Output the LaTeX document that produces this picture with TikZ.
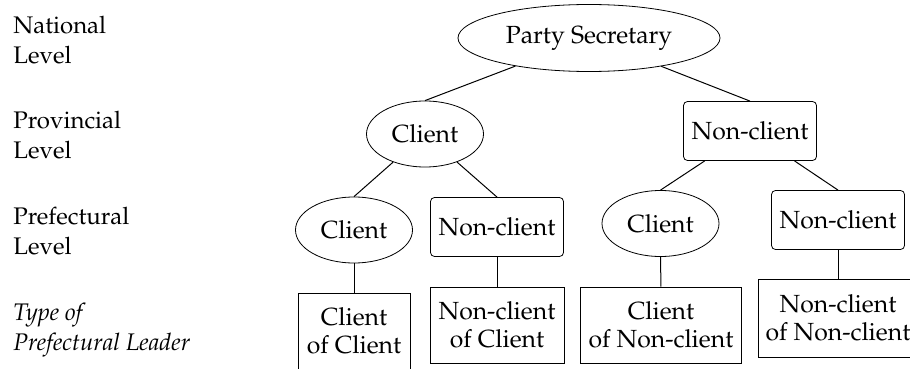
\documentclass[tikz,border=0pt]{standalone}
\usepackage[T1]{fontenc}
\usepackage{mathpazo}
\usepackage{tikz}
\usetikzlibrary{positioning,shapes.geometric}

\begin{document}
\begin{tikzpicture}[
	x=0.5pt, y=-0.5pt,
	font=\fontsize{12.4}{14}\selectfont,
	% Client (oval)
	cnode/.style={
		ellipse, draw=black, inner sep=0pt,
		minimum width=58.5pt, minimum height=33pt
	},
	% Non-client (rounded box)
	nnode/.style={
		rectangle, rounded corners=2pt, draw=black, inner sep=0pt,
		minimum width=66.5pt, minimum height=29.5pt
	},
	% Type of leader (plain box)
	leaf/.style={
		rectangle, draw=black, inner sep=0pt,
		minimum height=38pt, align=center
	},
	% Level labels on the left
	lvl/.style={
		anchor=north west, inner sep=0pt, align=left,
		font=\fontsize{12}{15}\selectfont
	},
	link/.style={draw=black, line width=0.5pt}
	]
	\useasboundingbox (0,0) rectangle (910,369);

	% --- 1. LEVEL LABELS ---
	\node[lvl] (lnat) at (13,16) {National\\Level};
	\node[lvl] (lprov) at (13,111) {Provincial\\Level};
	\node[lvl] (lpref) at (13,207) {Prefectural\\Level};
	\node[lvl, font=\itshape\fontsize{12}{15}\selectfont] (ltype) at (13,303) {Type of\\Prefectural Leader};

	% --- 2. TREE ---
	% National
	\node[cnode, minimum width=131pt, minimum height=33.5pt] (sec) at (589,38) {Party Secretary};
	% Provincial
	\node[cnode] (pc) at (425,134) {Client};
	\node[nnode] (pn) at (750,131) {Non-client};
	% Prefectural
	\node[cnode] (fcc) at (354,230) {Client};
	\node[nnode] (fcn) at (497,227) {Non-client};
	\node[cnode] (fnc) at (660.5,223.5) {Client};
	\node[nnode] (fnn) at (838,220) {Non-client};
	% Type of prefectural leader
	\node[leaf, minimum width=56pt] (tcc) at (354,331) {Client\\of Client};
	\node[leaf, minimum width=67pt] (tcn) at (497,325) {Non-client\\of Client};
	\node[leaf, minimum width=80.5pt] (tnc) at (661,325) {Client\\of Non-client};
	\node[leaf, minimum width=80pt, minimum height=39pt] (tnn) at (838,318) {Non-client\\of Non-client};

	% --- 3. LINKS ---
	\draw[link] (sec) -- (pc.north);
	\draw[link] (sec) -- (pn.north);
	\draw[link] (pc) -- (fcc.north);
	\draw[link] (pc) -- (fcn.north);
	\draw[link] (pn) -- (fnc.north);
	\draw[link] (pn) -- (fnn.north);
	\draw[link] (fcc) -- (tcc);
	\draw[link] (fcn) -- (tcn);
	\draw[link] (fnc) -- (tnc);
	\draw[link] (fnn) -- (tnn);
\end{tikzpicture}
\end{document}
